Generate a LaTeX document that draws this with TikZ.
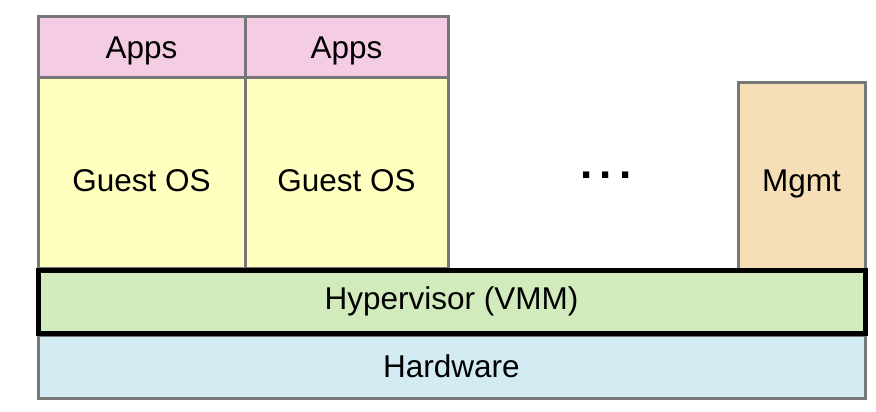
\documentclass[tikz,border=0pt]{standalone}
\usepackage{fontspec}
\setmainfont{Liberation Sans}
\definecolor{appsc}{HTML}{F4CCE3}
\definecolor{guestc}{HTML}{FFFFC0}
\definecolor{hypc}{HTML}{D2EBBC}
\definecolor{hwc}{HTML}{D3EBF2}
\definecolor{mgmtc}{HTML}{F6DFB6}
\definecolor{edgec}{HTML}{777777}
\begin{document}
\begin{tikzpicture}[x=1pt,y=-1pt,
  layer/.style={draw=edgec,line width=3pt,rectangle,inner sep=0pt,font=\fontsize{31.5}{34}\selectfont},
  label/.style={layer,draw=none,fill=none},
  every node/.append style={text=black}]
\useasboundingbox (0,0) rectangle (876,412);
\node[layer,fill=appsc,minimum width=207,minimum height=61] (apps1) at (141.5,47.5) {};
\node[layer,fill=appsc,minimum width=203,minimum height=61] (apps2) at (346.5,47.5) {};
\node[layer,fill=guestc,minimum width=207,minimum height=190] (guest1) at (141.5,173) {};
\node[layer,fill=guestc,minimum width=203,minimum height=190] (guest2) at (346.5,173) {};
\node[layer,fill=mgmtc,minimum width=127,minimum height=187] (mgmt) at (801.5,176.5) {};
\node[label] (apps1t) at ([yshift=-3pt]apps1.center) {Apps};
\node[label] (apps2t) at ([yshift=-3pt]apps2.center) {Apps};
\node[label] (guest1t) at ([yshift=-8pt]guest1.center) {Guest OS};
\node[label] (guest2t) at ([yshift=-8pt]guest2.center) {Guest OS};
\node[label] (mgmtt) at ([yshift=-7pt]mgmt.center) {Mgmt};
\node[layer,fill=hwc,minimum width=827,minimum height=63] (hw) at (451.5,366.5) {Hardware};
\node[layer,draw=black,line width=5pt,fill=hypc,minimum width=827,minimum height=63] (hyp) at (451.5,301.5) {Hypervisor (VMM)};
\node[font=\fontsize{44}{46}\selectfont\bfseries,inner sep=0pt] (dots) at (606,175) {.\hspace{7pt}.\hspace{7pt}.};
\end{tikzpicture}
\end{document}
